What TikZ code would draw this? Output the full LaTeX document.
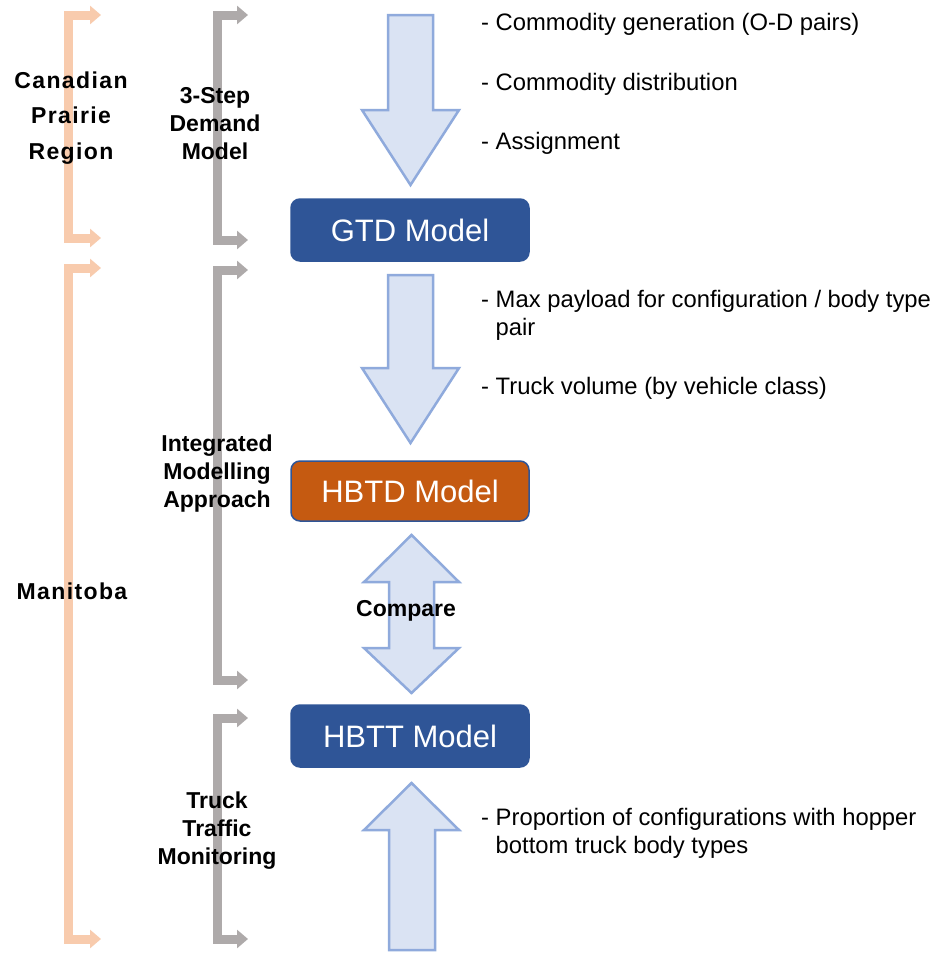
\documentclass[tikz,border=0pt]{standalone}
\usepackage{fontspec}
\setmainfont{Liberation Sans}
\newfontfamily\spacedfont[LetterSpace=6]{Liberation Sans}
\usetikzlibrary{arrows.meta}
\definecolor{peach}{HTML}{F8CBAD}
\definecolor{brgray}{HTML}{AEAAAA}
\definecolor{boxblue}{HTML}{2F5597}
\definecolor{boxorange}{HTML}{C55A11}
\definecolor{arrfill}{HTML}{DAE3F3}
\definecolor{arrdraw}{HTML}{8FAADC}
\begin{document}
\begin{tikzpicture}[x=1pt,y=-1pt,
  orangebr/.style={draw=peach,line width=9pt,line join=miter,{Triangle[width=18pt,length=11pt]}-{Triangle[width=18pt,length=11pt]}},
  graybr/.style={draw=brgray,line width=9pt,line join=miter,{Triangle[width=18pt,length=11pt]}-{Triangle[width=18pt,length=11pt]}},
  bigarrow/.style={fill=arrfill,draw=arrdraw,line width=2.5pt,line join=miter},
  modelbox/.style={rounded corners=9pt,minimum width=238pt,inner sep=0pt,text=white,
     font=\fontsize{31}{36}\selectfont,draw=boxblue,line width=1.5pt},
  desc/.style={anchor=west,inner sep=0pt,align=left,font=\fontsize{23.8}{28}\selectfont},
  graylbl/.style={align=center,inner sep=0pt,font=\bfseries\fontsize{23}{28}\selectfont},
  orangelbl/.style={align=center,inner sep=0pt,font=\spacedfont\bfseries\fontsize{23}{35.5}\selectfont},
]
\useasboundingbox (0,0) rectangle (934,953);
\fill[white] (0,0) rectangle (934,953);

% brackets
\draw[orangebr] (101,15) -- (68,15) -- (68,238) -- (101,238);
\draw[orangebr] (101,268) -- (68,268) -- (68,939) -- (101,939);
\draw[graybr] (248,15) -- (217,15) -- (217,240) -- (248,240);
\draw[graybr] (248,270) -- (217,270) -- (217,680) -- (248,680);
\draw[graybr] (248,718) -- (217,718) -- (217,939) -- (248,939);

% big block arrows
\draw[bigarrow] (388,15) -- (433,15) -- (433,110) -- (459,110) -- (410.5,185) -- (362,110) -- (388,110) -- cycle;
\draw[bigarrow] (388,275) -- (433,275) -- (433,368) -- (459,368) -- (410.5,443) -- (362,368) -- (388,368) -- cycle;
\draw[bigarrow] (411.5,535) -- (459,582) -- (434,582) -- (434,648) -- (459,648) -- (411.5,693) -- (364,648) -- (389,648) -- (389,582) -- (364,582) -- cycle;
\draw[bigarrow] (411.5,783) -- (459,830) -- (435,830) -- (435,950) -- (389,950) -- (389,830) -- (364,830) -- cycle;

% model boxes
\node[modelbox,fill=boxblue,minimum height=62pt] (gtd) at (410,230) {GTD Model};
\node[modelbox,fill=boxorange,minimum height=60pt] (hbtd) at (410,491) {HBTD Model};
\node[modelbox,fill=boxblue,minimum height=62pt] (hbtt) at (410,736) {HBTT Model};

% descriptions
\node[desc] (d1) at (481,24) {- Commodity generation (O-D pairs)};
\node[desc] (d2) at (481,84) {- Commodity distribution};
\node[desc] (d3) at (481,143) {- Assignment};
\node[desc] (d4) at (481,315) {- Max payload for configuration / body type\\\hphantom{- }pair};
\node[desc] (d5) at (481,388) {- Truck volume (by vehicle class)};
\node[desc] (d6) at (481,833) {- Proportion of configurations with hopper\\\hphantom{- }bottom truck body types};

% labels
\node[orangelbl] (lcpr) at (71,118) {Canadian\\Prairie\\Region};
\node[orangelbl] (lman) at (72,591) {Manitoba};
\node[graylbl] (l3s) at (215,124) {3-Step\\Demand\\Model};
\node[graylbl] (lima) at (217,474) {Integrated\\Modelling\\Approach};
\node[graylbl] (lttm) at (217,831) {Truck\\Traffic\\Monitoring};
\node[graylbl] (lcmp) at (406,611) {Compare};
\end{tikzpicture}
\end{document}
